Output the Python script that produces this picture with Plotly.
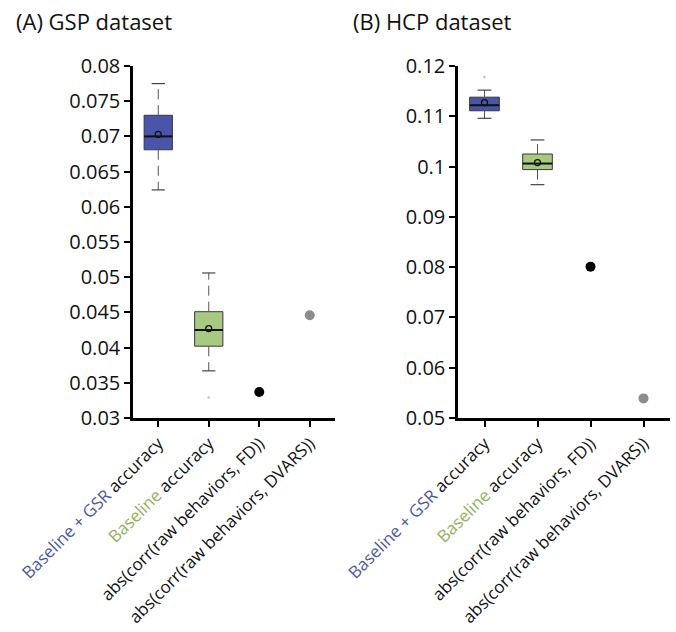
import plotly.graph_objects as go

# ---------------- data ----------------
categories_html = [
    "<span style='color:#4a57a6'>Baseline + GSR</span> accuracy",
    "<span style='color:#8db35a'>Baseline</span> accuracy",
    "abs(corr(raw behaviors, FD))",
    "abs(corr(raw behaviors, DVARS))",
]
panel_titles = ["(A) GSP dataset", "(B) HCP dataset"]

# box statistics per panel: [GSR, Baseline]
gsp_q1 = [0.0681, 0.0402]
gsp_median = [0.0700, 0.0425]
gsp_q3 = [0.0730, 0.0451]
gsp_lower = [0.0624, 0.0367]
gsp_upper = [0.0775, 0.0506]
gsp_mean = [0.0703, 0.0427]
gsp_outliers = [[], [0.0329]]
gsp_fd = 0.0337
gsp_dvars = 0.0446

hcp_q1 = [0.1111, 0.0994]
hcp_median = [0.1122, 0.1006]
hcp_q3 = [0.1138, 0.1025]
hcp_lower = [0.1096, 0.0964]
hcp_upper = [0.1152, 0.1053]
hcp_mean = [0.1127, 0.1008]
hcp_outliers = [[0.1178], []]
hcp_fd = 0.0801
hcp_dvars = 0.0539

gsp_ticks = [0.03, 0.035, 0.04, 0.045, 0.05, 0.055, 0.06, 0.065, 0.07, 0.075, 0.08]
gsp_ticktext = ["0.03", "0.035", "0.04", "0.045", "0.05", "0.055", "0.06", "0.065", "0.07", "0.075", "0.08"]
hcp_ticks = [0.05, 0.06, 0.07, 0.08, 0.09, 0.10, 0.11, 0.12]
hcp_ticktext = ["0.05", "0.06", "0.07", "0.08", "0.09", "0.1", "0.11", "0.12"]

box_fills = ["#4855a8", "#a7c980"]
FONT = "Open Sans"

fig = go.Figure()


def add_panel(xa, ya, q1, med, q3, lo, up, mean, outl, fd, dvars):
    hw = 0.28   # half box width (category units)
    cw = 0.13   # half cap width
    for i in range(2):
        # box body
        fig.add_trace(go.Scatter(
            x=[i - hw, i + hw, i + hw, i - hw, i - hw],
            y=[q1[i], q1[i], q3[i], q3[i], q1[i]],
            mode="lines", fill="toself", fillcolor=box_fills[i],
            line=dict(color="#3a3a3a", width=1), xaxis=xa, yaxis=ya,
            showlegend=False, hoverinfo="skip"))
        # whiskers (dashed)
        fig.add_trace(go.Scatter(
            x=[i, i, None, i, i], y=[q3[i], up[i], None, q1[i], lo[i]],
            mode="lines", line=dict(color="#555555", width=1, dash="10px,6px"),
            xaxis=xa, yaxis=ya, showlegend=False, hoverinfo="skip"))
        # caps
        fig.add_trace(go.Scatter(
            x=[i - cw, i + cw, None, i - cw, i + cw],
            y=[up[i], up[i], None, lo[i], lo[i]],
            mode="lines", line=dict(color="#444444", width=1.2),
            xaxis=xa, yaxis=ya, showlegend=False, hoverinfo="skip"))
        # median
        fig.add_trace(go.Scatter(
            x=[i - hw, i + hw], y=[med[i], med[i]], mode="lines",
            line=dict(color="#111111", width=2), xaxis=xa, yaxis=ya,
            showlegend=False, hoverinfo="skip"))
        # mean
        fig.add_trace(go.Scatter(
            x=[i], y=[mean[i]], mode="markers",
            marker=dict(symbol="circle-open", size=6, color="#111111", line=dict(width=1.3)),
            xaxis=xa, yaxis=ya, showlegend=False, hoverinfo="skip"))
        # outliers
        if outl[i]:
            fig.add_trace(go.Scatter(
                x=[i] * len(outl[i]), y=outl[i], mode="markers",
                marker=dict(size=3, color="#d0d0d0"),
                xaxis=xa, yaxis=ya, showlegend=False, hoverinfo="skip"))
    fig.add_trace(go.Scatter(
        x=[2], y=[fd], mode="markers", marker=dict(size=10, color="#000000"),
        xaxis=xa, yaxis=ya, showlegend=False))
    fig.add_trace(go.Scatter(
        x=[3], y=[dvars], mode="markers", marker=dict(size=10, color="#8c8c8c"),
        xaxis=xa, yaxis=ya, showlegend=False))


add_panel("x", "y", gsp_q1, gsp_median, gsp_q3, gsp_lower, gsp_upper, gsp_mean,
          gsp_outliers, gsp_fd, gsp_dvars)
add_panel("x2", "y2", hcp_q1, hcp_median, hcp_q3, hcp_lower, hcp_upper, hcp_mean,
          hcp_outliers, hcp_fd, hcp_dvars)

W, H = 676, 632
ydom = [1 - 418 / H, 1 - 66 / H]

xcommon = dict(
    tickmode="array", tickvals=[0, 1, 2, 3], ticktext=categories_html,
    range=[-0.5, 3.5], tickangle=-45, showline=True, linecolor="#000000", linewidth=2.5,
    ticks="outside", ticklen=6, tickwidth=2, tickcolor="#000000", automargin=False,
    showgrid=False, zeroline=False, tickfont=dict(family=FONT, size=17, color="#111111"),
)
ycommon = dict(
    showline=True, linecolor="#000000", linewidth=2.5, ticks="outside", ticklen=6,
    tickwidth=2, tickcolor="#000000", showgrid=False, zeroline=False, automargin=False,
    tickfont=dict(family=FONT, size=20, color="#111111"), tickmode="array",
)

fig.update_layout(
    width=W, height=H, margin=dict(l=0, r=0, t=0, b=0, autoexpand=False),
    paper_bgcolor="white", plot_bgcolor="white", showlegend=False,
    xaxis=dict(domain=[133 / W, 335 / W], anchor="y", **xcommon),
    xaxis2=dict(domain=[458 / W, 670 / W], anchor="y2", **xcommon),
    yaxis=dict(domain=ydom, anchor="x", range=[0.03, 0.08], tickvals=gsp_ticks,
               ticktext=gsp_ticktext, **ycommon),
    yaxis2=dict(domain=ydom, anchor="x2", range=[0.05, 0.12], tickvals=hcp_ticks,
                ticktext=hcp_ticktext, **ycommon),
    annotations=[
        dict(text=panel_titles[0], x=14 / W, y=1 - 21 / H, xref="paper", yref="paper",
             xanchor="left", yanchor="middle", showarrow=False,
             font=dict(family=FONT, size=22, color="#111111")),
        dict(text=panel_titles[1], x=351 / W, y=1 - 21 / H, xref="paper", yref="paper",
             xanchor="left", yanchor="middle", showarrow=False,
             font=dict(family=FONT, size=22, color="#111111")),
    ],
)

fig.write_html("out.html", config={"displayModeBar": False},
               post_script="document.body.style.margin='0px';document.body.style.overflow='hidden';")
